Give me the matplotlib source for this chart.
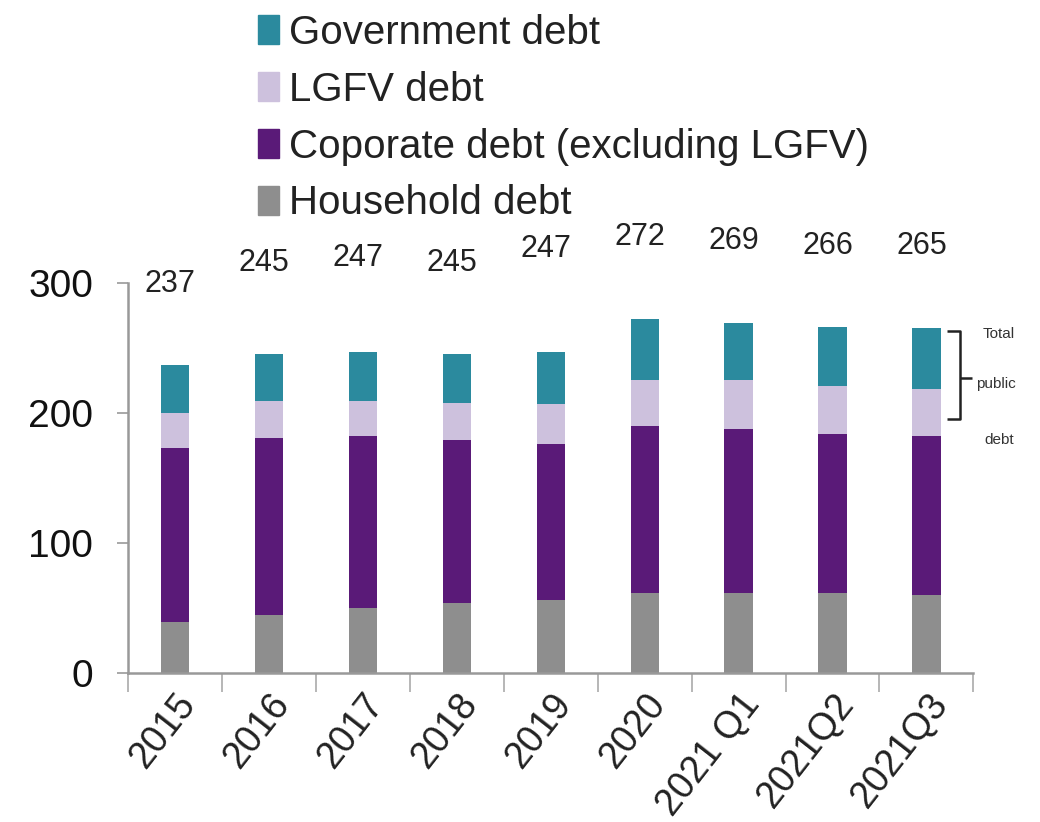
"""Stacked bar chart: China debt by sector, % of GDP (2015 - 2021Q3)."""
import matplotlib

matplotlib.use("Agg")
import matplotlib.pyplot as plt
from matplotlib.patches import Patch

# --- data (% of GDP) ---
periods = ["2015", "2016", "2017", "2018", "2019", "2020", "2021 Q1", "2021Q2", "2021Q3"]
household = [39, 45, 50, 54, 56, 62, 62, 62, 60]
corporate = [134, 136, 132, 125, 120, 128, 126, 122, 122]
lgfv = [27, 28, 27, 29, 31, 35, 37, 37, 36]
government = [37, 36, 38, 37, 40, 47, 44, 45, 47]
totals = [237, 245, 247, 245, 247, 272, 269, 266, 265]

# layout only: heights where the total labels sit (they are staggered in the source)
label_y = [299, 315, 319, 315, 326, 335, 332, 328, 328]

C_GOV = "#2b8a9e"
C_LGFV = "#cdc1dd"
C_CORP = "#5a1a78"
C_HH = "#8e8e8e"

plt.rcParams["font.family"] = ["Liberation Sans", "DejaVu Sans"]

fig = plt.figure(figsize=(10.4, 8.22), dpi=100)
ax = fig.add_axes([0.123, 0.181, 0.813, 0.475])

x = list(range(len(periods)))
w = 0.3
ax.bar(x, household, width=w, color=C_HH)
b1 = list(household)
ax.bar(x, corporate, width=w, bottom=b1, color=C_CORP)
b2 = [a + b for a, b in zip(b1, corporate)]
ax.bar(x, lgfv, width=w, bottom=b2, color=C_LGFV)
b3 = [a + b for a, b in zip(b2, lgfv)]
ax.bar(x, government, width=w, bottom=b3, color=C_GOV)

for xi, t, ly in zip(x, totals, label_y):
    ax.text(xi - 0.05, ly, str(t), ha="center", va="center", fontsize=22,
            color="#222222", clip_on=False)

ax.set_xlim(-0.5, len(periods) - 0.5)
ax.set_ylim(0, 300)
ax.set_yticks([0, 100, 200, 300])
ax.tick_params(axis="y", labelsize=28, length=8, width=1.2, color="#999999",
               pad=17, labelcolor="#111111")
ax.set_xticks(x)
ax.set_xticklabels(periods, rotation=52, ha="right", rotation_mode="anchor",
                   fontsize=27, color="#222222")
ax.tick_params(axis="x", length=0, pad=10)
ax.set_xticks([i - 0.5 for i in range(len(periods) + 1)], minor=True)
ax.tick_params(axis="x", which="minor", length=14, width=1.2, color="#aaaaaa")

for s in ["top", "right"]:
    ax.spines[s].set_visible(False)
for s in ["left", "bottom"]:
    ax.spines[s].set_color("#999999")
    ax.spines[s].set_linewidth(1.8)

# bracket marking total public debt on the last bar
xb0, xb1 = 8.22, 8.36
yb_top, yb_bot = 263, 195
yb_mid = 227
kw = dict(color="#222222", lw=1.8, clip_on=False, solid_capstyle="butt")
ax.plot([xb0, xb1, xb1, xb0], [yb_top, yb_top, yb_bot, yb_bot], **kw)
ax.plot([xb1, xb1 + 0.12], [yb_mid, yb_mid], **kw)
ax.text(8.77, 261, "Total", fontsize=11, ha="center", va="center", color="#333333")
ax.text(8.74, 222, "public", fontsize=11, ha="center", va="center", color="#333333")
ax.text(8.77, 179, "debt", fontsize=11, ha="center", va="center", color="#333333")

handles = [
    Patch(color=C_GOV, label="Government debt"),
    Patch(color=C_LGFV, label="LGFV debt"),
    Patch(color=C_CORP, label="Coporate debt (excluding LGFV)"),
    Patch(color=C_HH, label="Household debt"),
]
fig.legend(handles=handles, loc="upper left", bbox_to_anchor=(0.233, 1.003),
           frameon=False, fontsize=29, handlelength=0.5, handleheight=0.75,
           handletextpad=0.25, labelspacing=0.47, borderaxespad=0,
           labelcolor="#222222")

fig.savefig("out.png", dpi=100)
